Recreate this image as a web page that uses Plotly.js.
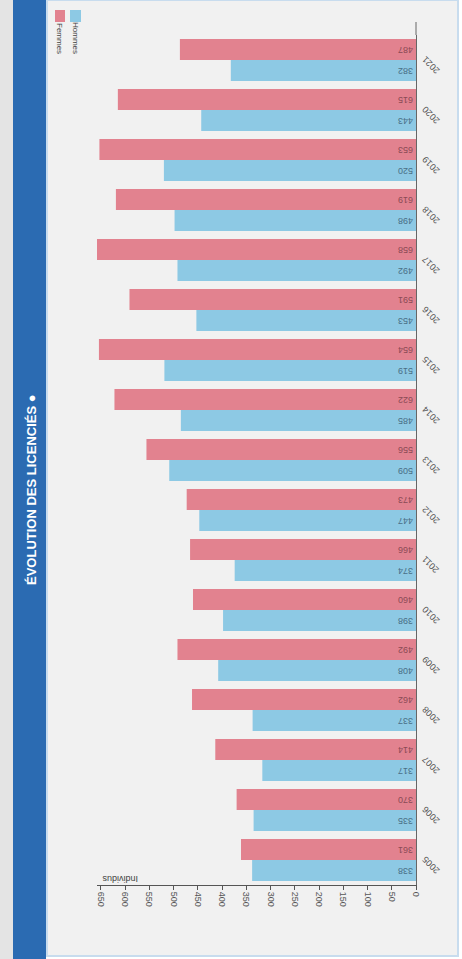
<!DOCTYPE html>
<html>
<head>
<meta charset="utf-8">
<script src="https://cdn.plot.ly/plotly-3.0.1.min.js"></script>
<style>html,body{margin:0;padding:0;background:#fff;}#chart{width:462px;height:959px;}</style>
</head>
<body>
<div id="chart"></div>
<script>
var years = ['2005','2006','2007','2008','2009','2010','2011','2012','2013','2014','2015','2016','2017','2018','2019','2020','2021'];
var femmes = [361,370,414,462,492,460,466,473,556,622,654,591,658,619,653,615,487];
var hommes = [338,335,317,337,408,398,374,447,509,485,519,453,492,498,520,443,382];
var xTicks = [0,50,100,150,200,250,300,350,400,450,500,550,600,650];

var W = 462, H = 959, L = 97, R = 46, T = 35, B = 74;
var PW = W - L - R, PH = H - T - B;
function px(x){ return (x - L) / PW; }
function py(y){ return (H - B - y) / PH; }

var pink = '#e2828f', blue = '#8dc9e4';

var traces = [
  {type:'bar', orientation:'h', name:'Hommes', y:years, x:hommes, marker:{color:blue},
   text:hommes.map(String), textposition:'inside', insidetextanchor:'start', textangle:180,
   constraintext:'none', textfont:{size:9, color:'#4a6f86', family:'Liberation Sans'}, hoverinfo:'x+y'},
  {type:'bar', orientation:'h', name:'Femmes', y:years, x:femmes, marker:{color:pink},
   text:femmes.map(String), textposition:'inside', insidetextanchor:'start', textangle:180,
   constraintext:'none', textfont:{size:9, color:'#8a4a55', family:'Liberation Sans'}, hoverinfo:'x+y'}
];

var annotations = [
  {xref:'paper', yref:'paper', x:px(31), y:py(490), text:'<b>ÉVOLUTION DES LICENCIÉS ●</b>',
   textangle:-90, showarrow:false, font:{size:13, color:'#ffffff', family:'Liberation Sans, Arial'},
   xanchor:'center', yanchor:'middle'},
  {xref:'paper', yref:'paper', x:px(120), y:py(879), text:'Individus', textangle:180,
   showarrow:false, font:{size:9, color:'#444'}, xanchor:'center', yanchor:'middle'},
  {xref:'paper', yref:'paper', x:px(60), y:py(38), text:'Femmes', textangle:90,
   showarrow:false, font:{size:8, color:'#444'}, xanchor:'center', yanchor:'middle'},
  {xref:'paper', yref:'paper', x:px(76), y:py(38), text:'Hommes', textangle:90,
   showarrow:false, font:{size:8, color:'#444'}, xanchor:'center', yanchor:'middle'}
];
years.forEach(function(yr, i){
  annotations.push({xref:'paper', yref:'y', x:px(431), y:i, yshift:-5, text:yr, textangle:-135,
    showarrow:false, font:{size:9, color:'#555'}, xanchor:'center', yanchor:'middle'});
});

var layout = {
  width: W, height: H,
  margin: {l:L, r:R, t:T, b:B, pad:0},
  paper_bgcolor: '#ffffff',
  plot_bgcolor: '#f1f1f1',
  showlegend: false,
  barmode: 'group',
  bargap: 0.16,
  bargroupgap: 0,
  font: {family:'Liberation Sans, Arial, sans-serif', size:9, color:'#555'},
  xaxis: {
    range: [658, 0], tickvals: xTicks, ticktext: xTicks.map(String),
    tickangle: 90, showgrid: false, zeroline: false,
    showline: true, linecolor: '#555', linewidth: 1,
    ticks: 'outside', ticklen: 4, tickcolor: '#555',
    tickfont: {size:9, color:'#555'}
  },
  yaxis: {
    type: 'category', categoryorder: 'array', categoryarray: years,
    range: [-0.5, years.length - 0.5],
    side: 'right', showticklabels: false,
    showgrid: false, zeroline: false,
    showline: true, linecolor: '#666', linewidth: 1, ticks: ''
  },
  shapes: [
    {type:'rect', xref:'paper', yref:'paper', x0:px(0), x1:px(13), y0:py(959), y1:py(0),
     fillcolor:'#e4e4e4', line:{width:0}, layer:'below'},
    {type:'rect', xref:'paper', yref:'paper', x0:px(47), x1:px(458), y0:py(956), y1:py(0),
     fillcolor:'#f1f1f1', line:{width:2, color:'#c8dcee'}, layer:'below'},
    {type:'rect', xref:'paper', yref:'paper', x0:px(13), x1:px(46), y0:py(959), y1:py(0),
     fillcolor:'#2b6bb2', line:{width:0}, layer:'below'},
    {type:'line', xref:'paper', yref:'paper', x0:px(416), x1:px(416), y0:py(35), y1:py(22),
     line:{width:1, color:'#666'}},
    {type:'rect', xref:'paper', yref:'paper', x0:px(55), x1:px(65), y0:py(22), y1:py(10),
     fillcolor:pink, line:{width:0}},
    {type:'rect', xref:'paper', yref:'paper', x0:px(70), x1:px(81), y0:py(22), y1:py(10),
     fillcolor:blue, line:{width:0}}
  ],
  annotations: annotations
};

Plotly.newPlot('chart', traces, layout, {displayModeBar:false, staticPlot:true});
</script>
</body>
</html>
